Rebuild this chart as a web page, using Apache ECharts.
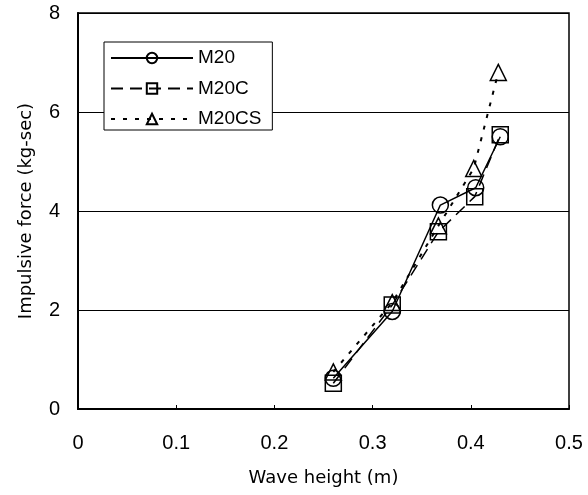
<!DOCTYPE html>
<html>
<head>
<meta charset="utf-8">
<script src="https://cdn.jsdelivr.net/npm/echarts@6/dist/echarts.min.js"></script>
<style>
  html, body { margin: 0; padding: 0; background: #fff; }
  #chart { width: 588px; height: 495px; }
</style>
</head>
<body>
<div id="chart"></div>
<script>
// Wave height (m) against impulsive force (kg-sec) for three specimens
const m20 = [[0.26, 0.62], [0.32, 1.97], [0.369, 4.12], [0.405, 4.47], [0.43, 5.5]];
const m20c = [[0.26, 0.52], [0.32, 2.1], [0.367, 3.58], [0.404, 4.29], [0.43, 5.54]];
const m20cs = [[0.26, 0.75], [0.32, 2.15], [0.367, 3.7], [0.403, 4.86], [0.428, 6.8]];
const seriesNames = ['M20', 'M20C', 'M20CS'];
const xTicks = [0, 0.1, 0.2, 0.3, 0.4, 0.5];
const yTicks = [0, 2, 4, 6, 8];

const numFont = '"Liberation Sans", Arial, sans-serif';
const nameFont = '"DejaVu Sans", sans-serif';
const hollow = { color: 'rgba(255,255,255,0)', borderColor: '#000', borderWidth: 1.5 };

const chart = echarts.init(document.getElementById('chart'), null, { renderer: 'canvas' });
chart.setOption({
  backgroundColor: '#fff',
  animation: false,
  grid: { left: 78, right: 19, top: 13, bottom: 86, show: true, borderColor: '#000', borderWidth: 1.5 },
  legend: {
    left: 104, top: 42, orient: 'vertical',
    backgroundColor: '#fff', borderColor: '#000', borderWidth: 1,
    padding: [6, 11, 1, 6], itemGap: 10.5, itemWidth: 82, itemHeight: 13,
    textStyle: { fontFamily: numFont, fontSize: 19, color: '#000', lineHeight: 20 },
    data: seriesNames
  },
  xAxis: {
    type: 'value', min: xTicks[0], max: xTicks[xTicks.length - 1], interval: 0.1,
    name: 'Wave height (m)', nameLocation: 'middle', nameGap: 60,
    nameTextStyle: { fontFamily: nameFont, fontSize: 18, color: '#000' },
    axisLine: { lineStyle: { color: '#000', width: 2 } },
    axisTick: { inside: true, length: 4, lineStyle: { color: '#000' } },
    axisLabel: { fontFamily: numFont, fontSize: 20, color: '#000', margin: 24,
      formatter: v => (v === 0 ? '0' : String(Math.round(v * 10) / 10)) },
    splitLine: { show: false }
  },
  yAxis: {
    type: 'value', min: yTicks[0], max: yTicks[yTicks.length - 1], interval: 2,
    name: 'Impulsive force (kg-sec)', nameLocation: 'middle', nameGap: 43, nameRotate: 90,
    nameTextStyle: { fontFamily: nameFont, fontSize: 18, color: '#000' },
    axisLine: { lineStyle: { color: '#000', width: 2 } },
    axisTick: { show: false },
    axisLabel: { fontFamily: numFont, fontSize: 20, color: '#000', margin: 18 },
    splitLine: { show: true, lineStyle: { color: '#000', width: 1 } }
  },
  series: [
    { name: 'M20', type: 'line', data: m20, symbol: 'circle', symbolSize: 16,
      lineStyle: { color: '#000', width: 1.5, type: 'solid' }, itemStyle: hollow, z: 3 },
    { name: 'M20C', type: 'line', data: m20c, symbol: 'rect', symbolSize: 16,
      lineStyle: { color: '#000', width: 1.5, type: [12, 7] }, itemStyle: hollow, z: 2 },
    { name: 'M20CS', type: 'line', data: m20cs, symbol: 'triangle', symbolSize: 16,
      lineStyle: { color: '#000', width: 2, type: [4, 8] }, itemStyle: hollow, z: 1 }
  ]
});
</script>
</body>
</html>
